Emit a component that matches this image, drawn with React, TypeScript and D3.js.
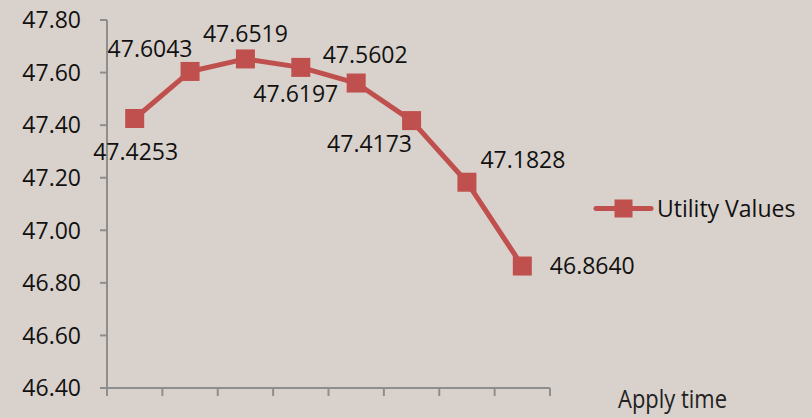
import React, { useEffect } from "react";
import * as d3 from "d3";

const categories = ["1", "2", "3", "4", "5", "6", "7", "8"];
const utilityValues = [47.4253, 47.6043, 47.6519, 47.6197, 47.5602, 47.4173, 47.1828, 46.864];
const valueLabels = ["47.4253", "47.6043", "47.6519", "47.6197", "47.5602", "47.4173", "47.1828", "46.8640"];
const yTicks = [46.4, 46.6, 46.8, 47.0, 47.2, 47.4, 47.6, 47.8];
const seriesName = "Utility Values";
const xAxisTitle = "Apply time";

// label offsets (dx, dy of baseline) relative to each point
const labelOffsets: [number, number][] = [
  [1, 42],
  [-40, -14],
  [0, -17],
  [-5, 35],
  [9, -20],
  [-42, 31],
  [56, -14],
  [70, 8],
];

const W = 812;
const H = 418;
const FONT = "'Open Sans', 'Liberation Sans', sans-serif";
const RED = "#c0504d";
const AXIS = "#8e8e8e";

export default function App() {
  useEffect(() => {
    document.body.style.margin = "0";
  }, []);

  const x = d3.scaleBand<string>().domain(categories).range([107, 550]);
  const y = d3.scaleLinear().domain([46.4, 47.8]).range([388, 20]);
  const cx = (c: string) => (x(c) ?? 0) + x.bandwidth() / 2;

  const line = d3
    .line<number>()
    .x((_, i) => cx(categories[i]))
    .y((d) => y(d));

  const ms = 19;
  const bottom = y(46.4);
  const left = x.range()[0];
  const right = x.range()[1];

  return (
    <svg width={W} height={H} style={{ display: "block", background: "#d9d1cb" }}>
      <rect x={0} y={0} width={W} height={H} fill="#d9d1cb" />
      {/* y axis */}
      <line x1={left} x2={left} y1={y(47.8)} y2={bottom} stroke={AXIS} strokeWidth={2} />
      {yTicks.map((t) => (
        <g key={t}>
          <line x1={left - 7} x2={left} y1={y(t)} y2={y(t)} stroke={AXIS} strokeWidth={2} />
          <text
            x={81}
            y={y(t)}
            dy="0.36em"
            textAnchor="end"
            fontFamily={FONT}
            fontSize={23}
            fill="#111"
          >
            {t.toFixed(2)}
          </text>
        </g>
      ))}
      {/* x axis */}
      <line x1={left - 7} x2={right} y1={bottom} y2={bottom} stroke={AXIS} strokeWidth={2} />
      {[...categories.map((c) => x(c) ?? 0), right].map((px, i) => (
        <line key={i} x1={px} x2={px} y1={bottom} y2={bottom + 8} stroke={AXIS} strokeWidth={2} />
      ))}
      <text
        x={618}
        y={408}
        fontFamily="'Liberation Sans Narrow', 'Open Sans', sans-serif"
        fontSize={25}
        fill="#222"
        textLength={109}
        lengthAdjust="spacingAndGlyphs"
      >
        {xAxisTitle}
      </text>
      {/* series */}
      <path d={line(utilityValues) ?? ""} fill="none" stroke={RED} strokeWidth={5} strokeLinejoin="round" />
      {utilityValues.map((v, i) => (
        <rect
          key={i}
          x={cx(categories[i]) - ms / 2}
          y={y(v) - ms / 2}
          width={ms}
          height={ms}
          fill={RED}
        />
      ))}
      {utilityValues.map((v, i) => (
        <text
          key={"l" + i}
          x={cx(categories[i]) + labelOffsets[i][0]}
          y={y(v) + labelOffsets[i][1]}
          textAnchor="middle"
          fontFamily={FONT}
          fontSize={23}
          fill="#111"
        >
          {valueLabels[i]}
        </text>
      ))}
      {/* legend */}
      <line x1={596} x2={651} y1={208.5} y2={208.5} stroke={RED} strokeWidth={5} strokeLinecap="round" />
      <rect x={623.5 - 9} y={208.5 - 9} width={18} height={18} fill={RED} />
      <text x={657} y={216.5} fontFamily={FONT} fontSize={23} fill="#111">
        {seriesName}
      </text>
    </svg>
  );
}
